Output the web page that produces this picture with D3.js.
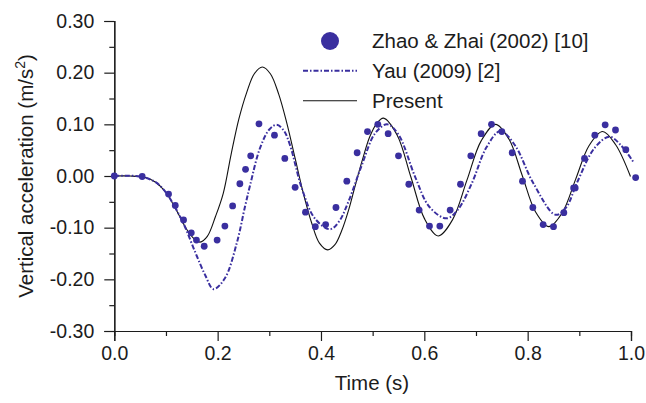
<!DOCTYPE html>
<html>
<head>
<meta charset="utf-8">
<script src="https://cdn.jsdelivr.net/npm/d3@7"></script>
<style>
  html, body { margin: 0; padding: 0; background: #fff; }
  svg { display: block; font-family: "Liberation Sans", Arial, Helvetica, sans-serif; }
</style>
</head>
<body>
<svg id="chart" width="646" height="403"></svg>
<script>
// Zhao & Zhai (2002) measured points: time (s), vertical acceleration (m/s^2)
const zhaoT = [0.000, 0.054, 0.105, 0.118, 0.134, 0.149, 0.159, 0.174, 0.199, 0.214, 0.229, 0.243,
               0.254, 0.264, 0.280, 0.310, 0.330, 0.350, 0.370, 0.389, 0.409, 0.429, 0.450, 0.470,
               0.490, 0.510, 0.530, 0.550, 0.570, 0.590, 0.610, 0.630, 0.650, 0.670, 0.690, 0.710,
               0.730, 0.750, 0.770, 0.790, 0.810, 0.830, 0.850, 0.870, 0.889, 0.892, 0.910, 0.930,
               0.950, 0.970, 0.990, 1.009];
const zhaoA = [0.000, -0.001, -0.035, -0.057, -0.085, -0.110, -0.124, -0.136, -0.124, -0.097, -0.058, -0.015,
               0.013, 0.039, 0.101, 0.079, 0.034, -0.022, -0.070, -0.098, -0.094, -0.061, -0.010, 0.045,
               0.086, 0.100, 0.082, 0.039, -0.016, -0.066, -0.097, -0.097, -0.066, -0.016, 0.039, 0.082,
               0.100, 0.086, 0.045, -0.010, -0.061, -0.094, -0.098, -0.071, -0.023, -0.023, 0.034, 0.079,
               0.099, 0.089, 0.051, -0.003];

// Yau (2009) curve
const yauT = [0.000, 0.050, 0.080, 0.100, 0.120, 0.134, 0.156, 0.176, 0.192, 0.214, 0.237, 0.253,
              0.263, 0.282, 0.300, 0.314, 0.328, 0.340, 0.363, 0.388, 0.4175, 0.435, 0.453, 0.479,
              0.505, 0.528, 0.550, 0.582, 0.610, 0.643, 0.665, 0.692, 0.720, 0.747, 0.775, 0.811,
              0.854, 0.875, 0.895, 0.930, 0.958, 0.980, 1.004];
const yauA = [0.000, -0.001, -0.012, -0.032, -0.065, -0.092, -0.146, -0.192, -0.219, -0.198, -0.130, -0.059,
              -0.017, 0.054, 0.090, 0.099, 0.088, 0.060, -0.024, -0.082, -0.103, -0.088, -0.050, 0.021,
              0.083, 0.100, 0.080, -0.001, -0.060, -0.082, -0.065, -0.014, 0.055, 0.087, 0.060, -0.014,
              -0.075, -0.060, -0.014, 0.055, 0.076, 0.060, 0.028];

// Present model
const presT = [0.000, 0.030, 0.060, 0.080, 0.100, 0.120, 0.140, 0.155, 0.166, 0.180, 0.196, 0.211,
               0.226, 0.241, 0.256, 0.271, 0.2865, 0.302, 0.318, 0.334, 0.350, 0.366, 0.382, 0.397,
               0.413, 0.427, 0.440, 0.454, 0.467, 0.481, 0.494, 0.508, 0.521, 0.5475, 0.574, 0.6005,
               0.627, 0.655, 0.6825, 0.710, 0.738, 0.764, 0.7895, 0.815, 0.841, 0.867, 0.893, 0.919,
               0.945, 0.970, 0.999];
const presA = [0.000, 0.000, -0.003, -0.012, -0.032, -0.066, -0.103, -0.122, -0.128, -0.117, -0.078, -0.033,
               0.0415, 0.110, 0.161, 0.198, 0.211, 0.198, 0.159, 0.102, 0.034, -0.034, -0.091, -0.130,
               -0.143, -0.133, -0.106, -0.064, -0.0155, 0.034, 0.075, 0.102, 0.112, 0.079, -0.002, -0.083,
               -0.116, -0.084, -0.008, 0.068, 0.100, 0.071, 0.001, -0.069, -0.098, -0.071, -0.006, 0.059,
               0.086, 0.061, -0.001];

const xMajor = [0.0, 0.2, 0.4, 0.6, 0.8, 1.0];
const xMinor = [0.1, 0.3, 0.5, 0.7, 0.9];
const yMajor = [-0.30, -0.20, -0.10, 0.00, 0.10, 0.20, 0.30];
const yMinor = [-0.25, -0.15, -0.05, 0.05, 0.15, 0.25];

const seriesNames = ["Zhao & Zhai (2002) [10]", "Yau (2009) [2]", "Present"];

const blue = "#3a2f9f";
const ink = "#1c1c1c";

const svg = d3.select("#chart");
const x = d3.scaleLinear().domain([0, 1.0]).range([114.3, 631]);
const y = d3.scaleLinear().domain([-0.3, 0.3]).range([331, 21]);

const hyphenFmt = f => v => d3.format(f)(v).replace("\u2212", "-");

// axes
function styleAxis(g) {
  g.select(".domain").attr("stroke", ink).attr("stroke-width", 1.2);
  g.selectAll(".tick line").attr("stroke", ink).attr("stroke-width", 1.2);
  g.selectAll(".tick text").attr("fill", ink).style("font-size", "19.5px")
    .style("font-family", "'Liberation Sans', Arial, sans-serif");
}

const gx = svg.append("g").attr("transform", `translate(0,${y(-0.3)})`)
  .call(d3.axisBottom(x).tickValues(xMajor).tickSize(10).tickPadding(5).tickFormat(d3.format(".1f")));
styleAxis(gx);
const gxm = svg.append("g").attr("transform", `translate(0,${y(-0.3)})`)
  .call(d3.axisBottom(x).tickValues(xMinor).tickSize(5).tickFormat(""));
styleAxis(gxm);

const gy = svg.append("g").attr("transform", `translate(${x(0)},0)`)
  .call(d3.axisLeft(y).tickValues(yMajor).tickSize(10).tickPadding(10).tickFormat(hyphenFmt(".2f")));
styleAxis(gy);
const gym = svg.append("g").attr("transform", `translate(${x(0)},0)`)
  .call(d3.axisLeft(y).tickValues(yMinor).tickSize(5).tickFormat(""));
styleAxis(gym);

// axis titles
svg.append("text")
  .attr("x", 372).attr("y", 390)
  .attr("text-anchor", "middle")
  .attr("fill", ink).style("font-size", "20.5px")
  .text("Time (s)");

const yt = svg.append("text")
  .attr("transform", `translate(33,${176}) rotate(-90)`)
  .attr("text-anchor", "middle")
  .attr("fill", ink).style("font-size", "20.5px");
yt.append("tspan").text("Vertical acceleration (m/s");
yt.append("tspan").attr("dy", -8).style("font-size", "14px").text("2");
yt.append("tspan").attr("dy", 8).text(")");

// curves
const line = d3.line().x(d => x(d[0])).y(d => y(d[1])).curve(d3.curveCatmullRom.alpha(0.5));

svg.append("path")
  .datum(presT.map((t, i) => [t, presA[i]]))
  .attr("d", line)
  .attr("fill", "none").attr("stroke", "#111").attr("stroke-width", 1.1);

svg.append("path")
  .datum(yauT.map((t, i) => [t, yauA[i]]))
  .attr("d", line)
  .attr("fill", "none").attr("stroke", blue).attr("stroke-width", 2)
  .attr("stroke-dasharray", "5,2,1.5,2");

svg.append("g").selectAll("circle")
  .data(zhaoT.map((t, i) => [t, zhaoA[i]]))
  .join("circle")
  .attr("cx", d => x(d[0])).attr("cy", d => y(d[1]))
  .attr("r", 3.4).attr("fill", blue);

// legend
const lg = svg.append("g");
lg.append("circle").attr("cx", 330).attr("cy", 41).attr("r", 9).attr("fill", blue);
lg.append("line").attr("x1", 303).attr("x2", 357).attr("y1", 70.7).attr("y2", 70.7)
  .attr("stroke", blue).attr("stroke-width", 2).attr("stroke-dasharray", "5,2,1.5,2");
lg.append("line").attr("x1", 303).attr("x2", 357).attr("y1", 100.7).attr("y2", 100.7)
  .attr("stroke", "#111").attr("stroke-width", 1.1);
[41, 70.7, 100.7].forEach((cy, i) => {
  lg.append("text").attr("x", 372).attr("y", cy).attr("dy", "0.36em")
    .attr("fill", ink).style("font-size", "20.5px").text(seriesNames[i]);
});
</script>
</body>
</html>
